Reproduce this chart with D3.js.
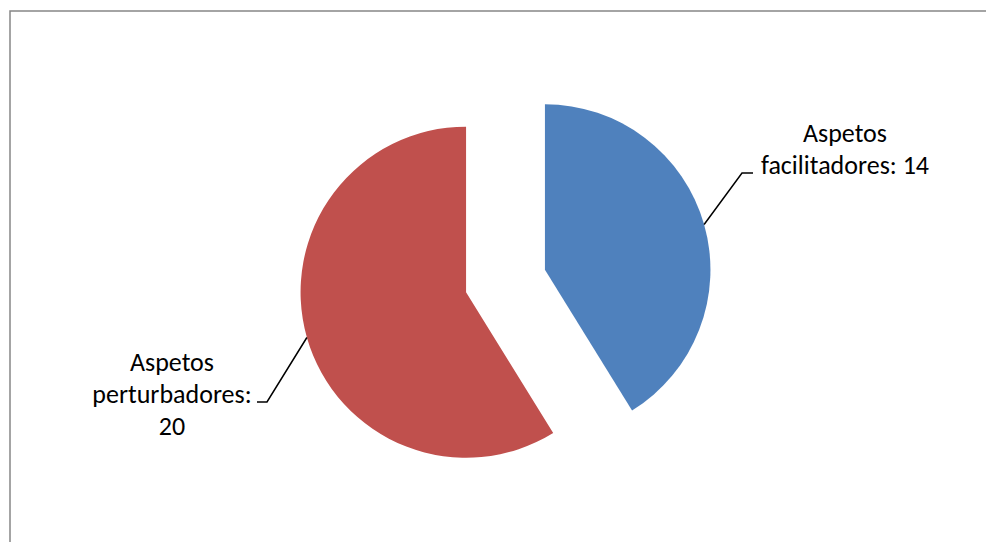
<!DOCTYPE html>
<html>
<head>
<meta charset="utf-8">
<script src="https://cdn.jsdelivr.net/npm/d3@7"></script>
<style>
  html, body { margin: 0; padding: 0; background: #fff; }
  svg { display: block; }
</style>
</head>
<body>
<svg id="chart" width="986" height="542"></svg>
<script>
// Chart data
const categories = ["Aspetos facilitadores", "Aspetos perturbadores"];
const values = [14, 20];
const colors = ["#4F81BD", "#C0504D"];
// Label lines (split as they wrap)
const labelLines = [["Aspetos", "facilitadores: 14"], ["Aspetos", "perturbadores:", "20"]];

const W = 986, H = 542;
const svg = d3.select("#chart");

// Chart area frame
svg.append("rect")
  .attr("x", 10).attr("y", 11)
  .attr("width", 1000).attr("height", 600)
  .attr("fill", "none")
  .attr("stroke", "#868686")
  .attr("stroke-width", 1.5);

const cx = 505.5, cy = 281, R = 165.5, explode = 41;

const pie = d3.pie().sort(null).value(d => d.value);
const arcs = pie(categories.map((c, i) => ({ name: c, value: values[i], color: colors[i], lines: labelLines[i] })));
const arc = d3.arc().innerRadius(0).outerRadius(R);

const g = svg.append("g").attr("transform", `translate(${cx},${cy})`);

function offsetOf(a) {
  const mid = (a.startAngle + a.endAngle) / 2;
  return [Math.sin(mid) * explode, -Math.cos(mid) * explode];
}

g.selectAll("path.slice")
  .data(arcs)
  .join("path")
  .attr("class", "slice")
  .attr("transform", d => { const o = offsetOf(d); return `translate(${o[0]},${o[1]})`; })
  .attr("d", arc)
  .attr("fill", d => d.data.color);

// Label placement: text centre x, first baseline, elbow and end of leader
const labelLayout = [
  { x: 845, y: 141.5, elbow: [742, 173], end: [753, 173] },
  { x: 172, y: 370.5, elbow: [267, 402], end: [257, 402] }
];
const lineHeight = 32;

// Fit the font so label widths follow Calibri-like proportions
const fontFamily = "Carlito, 'Liberation Sans Narrow', 'Open Sans', sans-serif";
const probe = svg.append("text").attr("font-family", fontFamily).attr("font-size", 100).text("facilitadores: 14");
const probeW = probe.node().getComputedTextLength();
probe.remove();
const fontSize = Math.min(26, 100 * 171 / probeW);

arcs.forEach((a, i) => {
  const L = labelLayout[i];
  const o = offsetOf(a);
  const mid = (a.startAngle + a.endAngle) / 2;
  const sx = cx + o[0] + Math.sin(mid) * R;
  const sy = cy + o[1] - Math.cos(mid) * R;
  svg.append("polyline")
    .attr("points", [[sx, sy], L.elbow, L.end].map(p => p.join(",")).join(" "))
    .attr("fill", "none")
    .attr("stroke", "#000")
    .attr("stroke-width", 1.5);
  const t = svg.append("text")
    .attr("font-family", fontFamily)
    .attr("font-size", fontSize)
    .attr("fill", "#000")
    .attr("text-anchor", "middle");
  a.data.lines.forEach((ln, k) => {
    t.append("tspan").attr("x", L.x).attr("y", L.y + k * lineHeight).text(ln);
  });
});
</script>
</body>
</html>
